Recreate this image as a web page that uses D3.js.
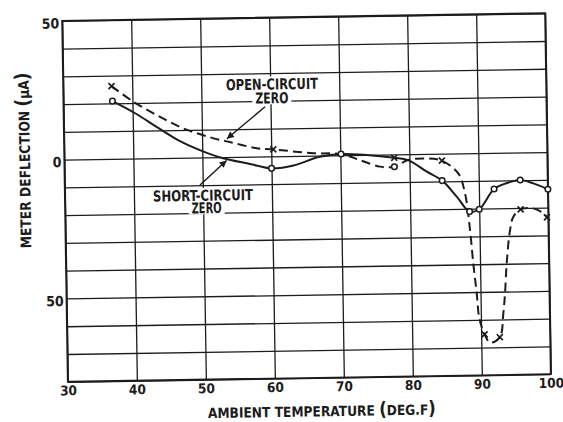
<!DOCTYPE html>
<html><head><meta charset="utf-8">
<script src="https://cdn.jsdelivr.net/npm/d3@7"></script>
<style>
html,body{margin:0;padding:0;background:#fff;}
svg{display:block;}
text{font-family:"DejaVu Sans Condensed","DejaVu Sans",sans-serif;fill:#1c1c1c;font-weight:bold;}
</style></head><body>
<svg id="chart" width="563" height="422"></svg>
<script>
// ---- data ----
const xTicks = [30, 40, 50, 60, 70, 80, 90, 100];
const yGrid = [50, 40, 30, 20, 10, 0, -10, -20, -30, -40, -50, -60, -70, -80];
const yTickValues = [50, 0, -50];
const yTickLabels = ["50", "0", "50"];

// short-circuit zero: measured points (circles)
const shortTemp = [37.1, 60.0, 70.1, 77.8, 84.7, 88.6, 90.0, 92.2, 96.0, 100];
const shortVal  = [20.8, -4.3, 0.45, -4.4, -9.7, -21.0, -20.2, -13.0, -9.9, -13.4];
// open-circuit zero: measured points (crosses)
const openTemp = [37.0, 60.3, 77.8, 84.7, 90.5, 92.7, 96.0, 99.8];
const openVal  = [26.2, 2.5, -1.2, -2.5, -65.3, -66.4, -20.5, -23.5];

// hand-drawn curves
const shortCurveTemp = [37.1, 40.3, 43.5, 46.8, 50.1, 53.0, 56.9, 60.0, 63.2, 67.0, 70.1, 73.8, 77.8, 79.8, 82.5, 84.7, 86.8, 88.6, 90.0, 92.2, 94.0, 96.0, 97.9, 100];
const shortCurveVal  = [20.8, 16.4, 11.2, 6.0, 2.2, -0.4, -2.6, -4.3, -3.4, -0.4, 0.45, -0.05, -1.2, -2.1, -6.4, -9.7, -15.6, -21.0, -20.2, -13.0, -11.0, -9.9, -11.2, -13.4];
const openCurveTemp = [37.0, 40.1, 43.5, 47.3, 51.2, 54.5, 57.9, 60.3, 66.1, 70.1, 72.8, 75.7, 77.8, 79.8, 82.4, 84.7, 87.05, 87.98, 88.62, 89.02, 89.45, 89.77, 90.5, 91.3, 92.7, 93.26, 93.55, 93.86, 94.42, 94.93, 96.0, 97.8, 99.3, 99.8];
const openCurveVal  = [26.2, 20.5, 15.5, 10.6, 7.2, 5.1, 3.0, 2.5, 0.9, 0.45, -1.8, -4.3, -4.4, -2.1, -1.6, -2.5, -7.2, -14.4, -27.6, -39.7, -50.5, -59.5, -65.3, -68.3, -66.4, -57.8, -50.6, -39.8, -27.9, -23.1, -20.5, -20.2, -22.0, -23.5];

// annotations: [temp, value] of text anchor and arrow
const openLabel = {lines: ["OPEN-CIRCUIT", "ZERO"], at: [[60.25, 24.1], [60.2, 19.1]], len: [92, 33], arrowFrom: [59.2, 17.9], arrowTo: [53.6, 6.6]};
const shortLabel = {lines: ["SHORT-CIRCUIT", "ZERO"], at: [[50.0, -15.6], [50.5, -20.1]], len: [100, 30], arrowFrom: [49.6, -9.9], arrowTo: [53.5, -1.2]};

// ---- layout ----
const W = 563, H = 422;
const L = 65, R = 548, T = 17, B = 378;
const ink = "#1c1c1c";
const font = '"DejaVu Sans Condensed","DejaVu Sans",sans-serif';

const svg = d3.select("#chart");
svg.append("rect").attr("width", W).attr("height", H).attr("fill", "#fff");
const g = svg.append("g").attr("transform", "rotate(-0.9 306.5 197.5)");

const x = d3.scaleLinear().domain([30, 100]).range([L, R]);
const y = d3.scaleLinear().domain([50, -80]).range([T, B]);

// vertical grid + x labels
const xAxis = g.append("g").attr("transform", `translate(0,${B})`)
  .call(d3.axisBottom(x).tickValues(xTicks).tickSize(-(B - T)).tickPadding(4).tickFormat(d => String(d)));
xAxis.select(".domain").remove();
xAxis.selectAll(".tick line").attr("stroke", ink).attr("stroke-width", 1.3);
xAxis.selectAll(".tick text").attr("font-size", 13.5).attr("fill", ink)
  .attr("font-family", font).attr("font-weight", "bold");

// horizontal grid + y labels
const labelMap = new Map(yTickValues.map((v, i) => [v, yTickLabels[i]]));
const yAxis = g.append("g").attr("transform", `translate(${L},0)`)
  .call(d3.axisLeft(y).tickValues(yGrid).tickSize(-(R - L)).tickPadding(3)
    .tickFormat(d => labelMap.has(d) ? labelMap.get(d) : ""));
yAxis.select(".domain").remove();
yAxis.selectAll(".tick line").attr("stroke", ink).attr("stroke-width", 1.3);
yAxis.selectAll(".tick text").attr("font-size", 14).attr("dy", "0.5em").attr("fill", ink)
  .attr("font-family", font).attr("font-weight", "bold");

// border
g.append("rect").attr("x", L).attr("y", T).attr("width", R - L).attr("height", B - T)
  .attr("fill", "none").attr("stroke", ink).attr("stroke-width", 1.9);

// label background masks
function addMask(lab) {
  lab.lines.forEach((txt, i) => {
    const cx = x(lab.at[i][0]), by = y(lab.at[i][1]);
    g.append("rect").attr("x", cx - lab.len[i] / 2 - 3).attr("y", by - 13).attr("width", lab.len[i] + 6).attr("height", 14)
      .attr("fill", "#fff");
  });
}
addMask(openLabel);
addMask(shortLabel);

// curves
const line = d3.line().x(d => x(d[0])).y(d => y(d[1])).curve(d3.curveCatmullRom.alpha(0.5));
const shortCurve = shortCurveTemp.map((t, i) => [t, shortCurveVal[i]]);
const openCurve = openCurveTemp.map((t, i) => [t, openCurveVal[i]]);

g.append("path").datum(openCurve).attr("d", line).attr("fill", "none")
  .attr("stroke", ink).attr("stroke-width", 2).attr("stroke-dasharray", "9,5");
g.append("path").datum(shortCurve).attr("d", line).attr("fill", "none")
  .attr("stroke", ink).attr("stroke-width", 2);

// markers
g.selectAll("circle.sc").data(shortTemp.map((t, i) => [t, shortVal[i]])).join("circle")
  .attr("class", "sc").attr("cx", d => x(d[0])).attr("cy", d => y(d[1])).attr("r", 2.8)
  .attr("fill", "#fff").attr("stroke", ink).attr("stroke-width", 1.5);
const cross = 3;
g.selectAll("path.oc").data(openTemp.map((t, i) => [t, openVal[i]])).join("path")
  .attr("class", "oc")
  .attr("d", d => {
    const cx = x(d[0]), cy = y(d[1]);
    return `M${cx - cross},${cy - cross}L${cx + cross},${cy + cross}M${cx + cross},${cy - cross}L${cx - cross},${cy + cross}`;
  })
  .attr("stroke", ink).attr("stroke-width", 1.7).attr("fill", "none");

// arrows
svg.append("defs").append("marker").attr("id", "ah").attr("viewBox", "0 0 10 10")
  .attr("refX", 10).attr("refY", 5).attr("markerWidth", 10).attr("markerHeight", 7)
  .attr("markerUnits", "userSpaceOnUse").attr("orient", "auto")
  .append("path").attr("d", "M0,0L10,5L0,10Z").attr("fill", ink);

function addText(lab) {
  lab.lines.forEach((txt, i) => {
    g.append("text").attr("x", x(lab.at[i][0])).attr("y", y(lab.at[i][1]))
      .attr("text-anchor", "middle").attr("font-size", 15)
      .attr("textLength", lab.len[i]).attr("lengthAdjust", "spacingAndGlyphs").text(txt);
  });
  g.append("line").attr("x1", x(lab.arrowFrom[0])).attr("y1", y(lab.arrowFrom[1]))
    .attr("x2", x(lab.arrowTo[0])).attr("y2", y(lab.arrowTo[1]))
    .attr("stroke", ink).attr("stroke-width", 1.5).attr("marker-end", "url(#ah)");
}
addText(openLabel);
addText(shortLabel);

// axis titles
const xt = g.append("text").attr("x", 204.5).attr("y", 416.5).attr("font-size", 14)
  .attr("textLength", 228).attr("lengthAdjust", "spacingAndGlyphs");
xt.append("tspan").text("AMBIENT TEMPERATURE ");
xt.append("tspan").attr("font-size", 19).text("(");
xt.append("tspan").text("DEG.F");
xt.append("tspan").attr("font-size", 19).text(")");

const yt = g.append("text").attr("transform", "translate(30.6,156) rotate(-90)")
  .attr("text-anchor", "middle").attr("font-size", 14.5)
  .attr("textLength", 176).attr("lengthAdjust", "spacingAndGlyphs");
yt.append("tspan").text("METER DEFLECTION ");
yt.append("tspan").attr("font-size", 20).text("(");
yt.append("tspan").text("µA");
yt.append("tspan").attr("font-size", 20).text(")");
</script>
</body></html>
